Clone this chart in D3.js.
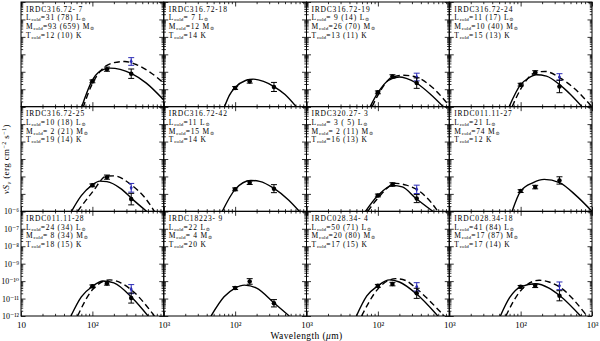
<!DOCTYPE html>
<html>
<head>
<meta charset="utf-8">
<script src="https://cdn.jsdelivr.net/npm/d3@7"></script>
<style>
  body { margin: 0; background: #fff; }
  text { font-family: "Liberation Serif", "DejaVu Serif", serif; fill: #000; white-space: pre; }
</style>
</head>
<body>
<div id="chart"></div>
<script>
const width = 600;
const height = 341;
const margin = {top: 2, right: 8, bottom: 25, left: 21};
const nCols = 4;
const nRows = 3;
const panelW = (width - margin.left - margin.right) / nCols;
const panelH = (height - margin.top - margin.bottom) / nRows;

// panel annotations
const sourceNames = ["IRDC316.72- 7", "IRDC316.72-18", "IRDC316.72-19", "IRDC316.72-24",
                     "IRDC316.72-25", "IRDC316.72-42", "IRDC320.27- 3", "IRDC011.11-27",
                     "IRDC011.11-28", "IRDC18223- 9", "IRDC028.34- 4", "IRDC028.34-18"];
const lumCold  = ["31 (78)", " 7", " 9 (14)", "11 (17)", "10 (18)", "11", " 3 ( 5)", "21",
                  "24 (34)", "22", "50 (71)", "41 (84)"];
const massCold = ["93 (659)", "12", "26 (70)", "10 (40)", " 2 (21)", "15", " 2 (11)", "74",
                  " 8 (34)", " 4", "20 (80)", "17 (87)"];
const tempCold = ["12 (10)", "14", "13 (11)", "15 (13)", "19 (14)", "14", "16 (13)", "12",
                  "18 (15)", "20", "17 (15)", "17 (14)"];

// photometry: wavelengths (um), log10 nuS_nu and error (dex)
const bandWave = [100, 160, 350];
const fluxLog = [
  [-10.55, -9.85, -10.11], [-10.93, -10.55, -10.87], [-11.18, -10.27, -10.65], [-10.74, -10.04, -10.84],
  [-10.51, -10.04, -11.30], [-10.74, -10.36, -10.70], [-11.09, -10.46, -11.27], [-10.84, -10.61, -10.23],
  [-10.30, -10.13, -10.97], [-10.40, -10.02, -11.27], [-10.27, -10.17, -10.70], [-10.33, -10.27, -10.84]
];
const fluxErr = [
  [0.08, 0.12, 0.27], [0.08, 0.10, 0.26], [0.08, 0.10, 0.30], [0.08, 0.10, 0.36],
  [0.08, 0.12, 0.33], [0.08, 0.10, 0.23], [0.08, 0.10, 0.23], [0.08, 0.10, 0.21],
  [0.08, 0.10, 0.29], [0.08, 0.16, 0.21], [0.08, 0.10, 0.29], [0.08, 0.10, 0.29]
];
// second 350 um measurement (blue)
const blueLog = [-9.41, null, -10.30, -10.30, -10.65, null, -10.74, null, -10.46, null, -10.33, -10.27];
const blueErr = [0.22, null, 0.22, 0.19, 0.25, null, 0.24, null, 0.26, null, 0.24, 0.22];

// fitted SEDs: [wavelength um, log10 nuS_nu]
const solidFit = [
  [[71, -12], [98, -10.55], [127, -9.98], [176, -9.79], [245, -9.86], [355, -10.11], [570, -10.65], [1000, -11.62]],
  [[71, -12], [83, -11.35], [100, -10.9], [140, -10.5], [178, -10.42], [250, -10.55], [355, -10.86], [500, -11.3], [718, -12]],
  [[78, -12], [100, -11.2], [140, -10.5], [200, -10.3], [250, -10.38], [340, -10.63], [550, -11.3], [824, -12]],
  [[69, -12], [100, -10.74], [130, -10.35], [165, -10.17], [230, -10.25], [355, -10.75], [500, -11.3], [724, -12]],
  [[51, -12], [70, -11.1], [98, -10.51], [127, -10.27], [160, -10.3], [250, -10.7], [363, -11.3], [575, -12]],
  [[66, -12], [100, -10.74], [166, -10.23], [220, -10.28], [355, -10.70], [560, -11.35], [794, -12]],
  [[67, -12], [100, -11.09], [162, -10.51], [220, -10.6], [339, -11.25], [589, -12]],
  [[76, -12], [100, -10.84], [150, -10.35], [214, -10.17], [350, -10.35], [600, -11.1], [1000, -12]],
  [[50, -12], [70, -10.9], [100, -10.3], [141, -9.99], [200, -10.1], [363, -10.97], [603, -12]],
  [[46, -12], [70, -10.9], [100, -10.40], [135, -10.23], [200, -10.4], [355, -11.27], [575, -12]],
  [[50, -12], [70, -10.85], [100, -10.27], [145, -9.93], [200, -10.05], [340, -10.70], [692, -12]],
  [[52, -12], [70, -10.95], [100, -10.33], [162, -10.15], [250, -10.4], [355, -10.84], [692, -12]]
];
const dashedFit = [
  [[74, -12.06], [98, -10.75], [127, -10.0], [190, -9.5], [285, -9.41], [420, -9.6], [630, -10.0], [1000, -10.65]],
  null,
  [[83, -12], [100, -11.35], [160, -10.3], [230, -10.2], [340, -10.3], [600, -10.95], [890, -11.7], [1000, -11.95]],
  [[76, -12], [100, -11.0], [160, -10.05], [220, -9.98], [355, -10.35], [600, -11.05], [810, -11.6], [1000, -12.0]],
  [[62, -12], [100, -10.9], [158, -9.98], [200, -9.97], [355, -10.5], [540, -11.2], [741, -12]],
  null,
  [[72, -12], [100, -11.25], [178, -10.4], [250, -10.5], [380, -10.84], [560, -11.5], [692, -12]],
  null,
  [[62, -12], [100, -10.5], [176, -9.93], [250, -10.1], [363, -10.55], [741, -12]],
  null,
  [[59, -12], [100, -10.45], [178, -9.86], [250, -9.98], [340, -10.4], [851, -12]],
  [[62, -12], [100, -10.55], [182, -9.95], [250, -10.05], [355, -10.35], [851, -12]]
];

const majorX = [10, 100, 1000];
const minorX = [20, 30, 40, 50, 60, 70, 80, 90, 200, 300, 400, 500, 600, 700, 800, 900];
const xTickLabels = {10: "10", 100: "10\u00b2", 1000: "10\u00b3"};
const yDecades = [-12, -11, -10, -9, -8, -7, -6];
const yTickLabels = ["10\u207b\u00b9\u00b2", "10\u207b\u00b9\u00b9", "10\u207b\u00b9\u2070",
                     "10\u207b\u2079", "10\u207b\u2078", "10\u207b\u2077", "10\u207b\u2076"];

const svg = d3.create("svg")
    .attr("width", width)
    .attr("height", height);

svg.append("rect").attr("width", width).attr("height", height).attr("fill", "#fff");

const majorY = yDecades.map(e => Math.pow(10, e));
const minorY = [];
yDecades.slice(0, -1).forEach(e => {
    for (let k = 2; k <= 9; k++) minorY.push(k * Math.pow(10, e));
});

function tickAxis(g, axis, values, size) {
    g.call(axis.tickValues(values).tickSize(-size).tickFormat(""))
        .call(s => s.select(".domain").remove())
        .call(s => s.selectAll("line").attr("stroke", "#000").attr("stroke-width", 0.8));
}

sourceNames.forEach((name, i) => {
    const col = i % nCols;
    const row = Math.floor(i / nCols);
    const x0 = margin.left + col * panelW;
    const y0 = margin.top + row * panelH;

    const x = d3.scaleLog().domain([10, 1000]).range([x0, x0 + panelW]);
    const y = d3.scaleLog().domain([1e-12, 1e-6]).range([y0 + panelH, y0]);

    const g = svg.append("g");

    g.append("clipPath").attr("id", "clip" + i)
        .append("rect")
        .attr("x", x0).attr("y", y0)
        .attr("width", panelW).attr("height", panelH);

    // ticks on all four sides, pointing inward
    [
        [d3.axisBottom(x), `translate(0,${y0 + panelH})`, majorX, minorX],
        [d3.axisTop(x), `translate(0,${y0})`, majorX, minorX],
        [d3.axisLeft(y), `translate(${x0},0)`, majorY, minorY],
        [d3.axisRight(y), `translate(${x0 + panelW},0)`, majorY, minorY]
    ].forEach(([axis, tr, maj, min]) => {
        g.append("g").attr("transform", tr).call(s => tickAxis(s, axis, maj, 4.5));
        g.append("g").attr("transform", tr).call(s => tickAxis(s, axis, min, 2.2));
    });

    g.append("rect")
        .attr("x", x0).attr("y", y0)
        .attr("width", panelW).attr("height", panelH)
        .attr("fill", "none")
        .attr("stroke", "#000")
        .attr("stroke-width", 1);

    // fitted curves
    const line = d3.line()
        .x(d => x(d[0]))
        .y(d => y(Math.pow(10, d[1])))
        .curve(d3.curveMonotoneX);

    const curves = g.append("g").attr("clip-path", `url(#clip${i})`);
    curves.append("path")
        .attr("d", line(solidFit[i]))
        .attr("fill", "none")
        .attr("stroke", "#000")
        .attr("stroke-width", 1.4);
    if (dashedFit[i]) {
        curves.append("path")
            .attr("d", line(dashedFit[i]))
            .attr("fill", "none")
            .attr("stroke", "#000")
            .attr("stroke-width", 1.4)
            .attr("stroke-dasharray", "6,3.5");
    }

    // error bars
    function errorBar(wave, val, err, color) {
        const cx = x(wave);
        const yTop = y(Math.pow(10, val + err));
        const yBot = y(Math.pow(10, val - err));
        g.append("line").attr("x1", cx).attr("x2", cx).attr("y1", yTop).attr("y2", yBot)
            .attr("stroke", color).attr("stroke-width", 1);
        [yTop, yBot].forEach(yy => {
            g.append("line").attr("x1", cx - 3).attr("x2", cx + 3).attr("y1", yy).attr("y2", yy)
                .attr("stroke", color).attr("stroke-width", 1);
        });
    }

    if (blueLog[i] !== null) {
        errorBar(350, blueLog[i], blueErr[i], "#2b2bb5");
        g.append("path")
            .attr("d", d3.symbol(d3.symbolDiamond, 8)())
            .attr("transform", `translate(${x(350)},${y(Math.pow(10, blueLog[i]))})`)
            .attr("fill", "#2b2bb5");
    }
    bandWave.forEach((w, k) => {
        errorBar(w, fluxLog[i][k], fluxErr[i][k], "#000");
        g.append("path")
            .attr("d", d3.symbol(d3.symbolCircle, 16)())
            .attr("transform", `translate(${x(w)},${y(Math.pow(10, fluxLog[i][k]))})`)
            .attr("fill", "#000");
    });

    // annotation
    const tx = x0 + 5;
    const fs = 7.5;
    g.append("text").attr("x", tx).attr("y", y0 + 9.5).attr("font-size", fs)
        .attr("letter-spacing", 0.8).text(name);
    const rows = [
        ["L", lumCold[i], "L"],
        ["M", massCold[i], "M"],
        ["T", tempCold[i], null]
    ];
    rows.forEach(([sym, val, unit], r) => {
        const t = g.append("text").attr("x", tx).attr("y", y0 + 18.2 + r * 8.7)
            .attr("font-size", fs).attr("letter-spacing", 0.8);
        t.append("tspan").text(sym);
        t.append("tspan").attr("font-size", 5).attr("letter-spacing", 0.2).attr("dy", 1.2).text("cold");
        t.append("tspan").attr("dy", -1.2).text("=" + val + " ");
        if (unit) {
            t.append("tspan").text(unit);
            t.append("tspan").attr("font-size", 5).attr("dy", 1.2).text("\u2299");
        } else {
            t.append("tspan").text("K");
        }
    });

    // tick labels on the outer panels
    if (row === nRows - 1) {
        const vals = col === 0 ? majorX : majorX.slice(1);
        g.append("g")
            .attr("transform", `translate(0,${y0 + panelH})`)
            .call(d3.axisBottom(x).tickValues(vals).tickSize(0).tickPadding(6)
                .tickFormat(d => xTickLabels[d]))
            .call(s => s.select(".domain").remove())
            .call(s => s.selectAll("text").attr("font-size", 9)
                .attr("font-family", "Liberation Serif, serif").attr("fill", "#000"));
        if (col === 0) {
            g.append("g")
                .attr("transform", `translate(${x0},0)`)
                .call(d3.axisLeft(y).tickValues(majorY).tickSize(0).tickPadding(2)
                    .tickFormat((d, k) => yTickLabels[k]))
                .call(s => s.select(".domain").remove())
                .call(s => s.selectAll("text").attr("font-size", 8)
                    .attr("font-family", "Liberation Serif, serif").attr("fill", "#000"));
        }
    }
});

// axis titles
const xTitle = svg.append("text")
    .attr("x", margin.left + 2 * panelW)
    .attr("y", height - 2)
    .attr("text-anchor", "middle")
    .attr("font-size", 9.5)
    .attr("letter-spacing", 0.4);
xTitle.append("tspan").text("Wavelength (");
xTitle.append("tspan").attr("font-style", "italic").text("\u03bc");
xTitle.append("tspan").text("m)");

const yTitle = svg.append("text")
    .attr("transform", `translate(9,${margin.top + 1.5 * panelH}) rotate(-90)`)
    .attr("text-anchor", "middle")
    .attr("font-size", 9)
    .attr("letter-spacing", 0.4);
yTitle.append("tspan").attr("font-style", "italic").text("\u03bdS");
yTitle.append("tspan").attr("font-size", 6).attr("dy", 2).attr("font-style", "italic").text("\u03bd");
yTitle.append("tspan").attr("dy", -2).text(" (erg cm");
yTitle.append("tspan").attr("font-size", 6).attr("dy", -3).text("\u22122");
yTitle.append("tspan").attr("dy", 3).text(" s");
yTitle.append("tspan").attr("font-size", 6).attr("dy", -3).text("\u22121");
yTitle.append("tspan").attr("dy", 3).text(")");

d3.select("#chart").append(() => svg.node());
</script>
</body>
</html>
